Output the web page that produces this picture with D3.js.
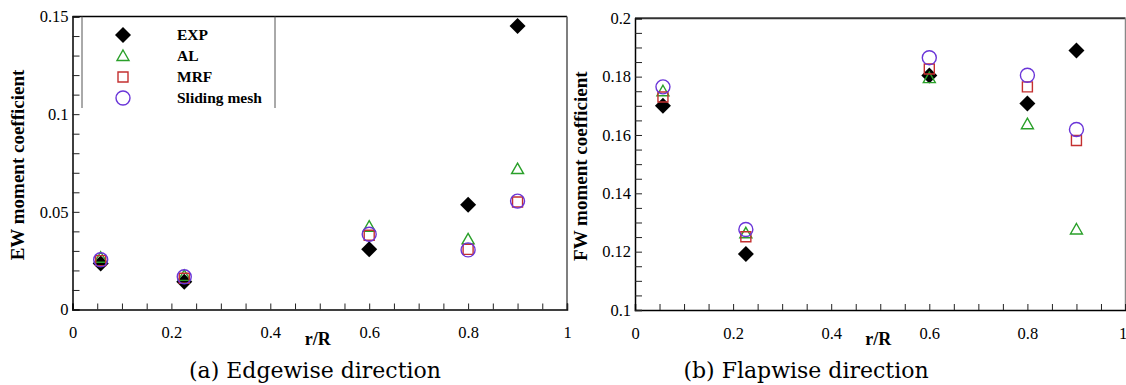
<!DOCTYPE html>
<html><head><meta charset="utf-8">
<script src="https://cdn.jsdelivr.net/npm/d3@7"></script>
<style>body{margin:0;background:#fff}svg{display:block}
.tnr{font-family:"Liberation Serif","Times New Roman",Times,serif}
.cap{font-family:"DejaVu Serif",serif}
</style>
</head><body>
<svg id="c" width="1126" height="385"></svg>
<script>
// ---- data ----
const rR = [0.057, 0.226, 0.6, 0.8, 0.9];
const seriesNames = ["EXP", "AL", "MRF", "Sliding mesh"];
// Edgewise (EW) moment coefficient
const ewEXP = [0.0235, 0.0142, 0.0308, 0.0536, 0.1452];
const ewAL = [0.0265, 0.0172, 0.0424, 0.0359, 0.0719];
const ewMRF = [0.0250, 0.0160, 0.0380, 0.0308, 0.0550];
const ewSliding = [0.0255, 0.0168, 0.0385, 0.0305, 0.0555];
// Flapwise (FW) moment coefficient
const fwEXP = [0.1700, 0.1192, 0.1804, 0.1708, 0.1890];
const fwAL = [0.1750, 0.1263, 0.1795, 0.1637, 0.1276];
const fwMRF = [0.1730, 0.1251, 0.1826, 0.1765, 0.1581];
const fwSliding = [0.1765, 0.1276, 0.1865, 0.1805, 0.1619];
const xTicks = [0, 0.2, 0.4, 0.6, 0.8, 1];
const ewTicks = [0, 0.05, 0.1, 0.15];
const fwTicks = [0.1, 0.12, 0.14, 0.16, 0.18, 0.2];

const svg = d3.select("#c");

const symbolPath = {
  EXP: "M0,-8L8,0L0,8L-8,0Z",
  AL: "M0,-6L6,4.5L-6,4.5Z",
  MRF: "M-5,-5H5V5H-5Z",
  "Sliding mesh": "M7,0A7,7 0 1,1 -7,0A7,7 0 1,1 7,0Z"
};
const symbolStyle = {
  EXP: {fill: "#000", stroke: "none", sw: 0},
  AL: {fill: "none", stroke: "#2aa02a", sw: 1.4},
  MRF: {fill: "none", stroke: "#c43030", sw: 1.4},
  "Sliding mesh": {fill: "none", stroke: "#6a35d8", sw: 1.4}
};

function panel(opt) {
  const x = d3.scaleLinear().domain([0, 1]).range([opt.x0, opt.x1]);
  const y = d3.scaleLinear().domain(opt.yDomain).range([opt.y0, opt.y1]);
  const g = svg.append("g");

  // frame
  g.append("line").attr("x1", opt.x0).attr("x2", opt.x1).attr("y1", opt.y1).attr("y2", opt.y1)
    .attr("stroke", opt.topColor).attr("stroke-width", opt.topWidth);
  g.append("line").attr("x1", opt.x1).attr("x2", opt.x1).attr("y1", opt.y1).attr("y2", opt.y0)
    .attr("stroke", opt.rightColor).attr("stroke-width", 1.5);

  // x axis
  const xa = g.append("g").attr("transform", `translate(0,${opt.y0})`)
    .call(d3.axisBottom(x).tickValues(d3.range(0, 1.0001, 0.05)).tickSize(-6).tickFormat(""));
  xa.select(".domain").attr("stroke", "#000").attr("stroke-width", 1.5);
  xa.selectAll(".tick line").attr("stroke", "#222").attr("stroke-width", 1);
  const xl = g.append("g").attr("transform", `translate(0,${opt.y0})`)
    .call(d3.axisBottom(x).tickValues(xTicks).tickSize(0).tickPadding(17).tickFormat(d => d === 0 || d === 1 ? d : d3.format(".1f")(d)));
  xl.select(".domain").remove();
  xl.attr("font-family", null).attr("font-size", null);
  xl.selectAll("text").attr("class", "tnr").style("font-size", "16.5px").attr("fill", "#000")
    .attr("dx", d => (d === 1 && opt.clampOne) ? -3 : 0);

  // y axis
  const ya = g.append("g").attr("transform", `translate(${opt.x0},0)`)
    .call(d3.axisLeft(y).tickValues(opt.yMinor).tickSize(-7).tickFormat(""));
  ya.select(".domain").attr("stroke", "#000").attr("stroke-width", 1.5);
  ya.selectAll(".tick line").attr("stroke", "#222").attr("stroke-width", 1);
  const yl = g.append("g").attr("transform", `translate(${opt.x0},0)`)
    .call(d3.axisLeft(y).tickValues(opt.yTicks).tickSize(0).tickPadding(4).tickFormat(d => d3.format("")(d)));
  yl.select(".domain").remove();
  yl.attr("font-family", null).attr("font-size", null);
  yl.selectAll("text").attr("class", "tnr").style("font-size", "16.5px").attr("fill", "#000");

  // axis titles
  g.append("text").attr("class", "tnr").attr("x", (opt.x0 + opt.x1) / 2 - 2).attr("y", 345)
    .attr("text-anchor", "middle").style("font-weight", "bold")
    .style("font-size", "18px").text("r/R");
  g.append("text").attr("class", "tnr").attr("transform", `translate(${opt.yTitleX},${(opt.y0 + opt.y1) / 2 + 2}) rotate(-90)`)
    .attr("text-anchor", "middle").style("font-weight", "bold")
    .style("font-size", "19px").text(opt.yTitle);
  g.append("text").attr("class", "cap").attr("x", opt.captionX).attr("y", 378)
    .attr("text-anchor", "middle")
    .style("font-size", "22px").text(opt.caption);

  // markers
  opt.series.forEach((vals, si) => {
    const name = seriesNames[si];
    const st = symbolStyle[name];
    g.selectAll(null).data(vals.map((v, i) => ({x: rR[i], v}))).enter().append("path")
      .attr("transform", d => `translate(${x(d.x)},${y(d.v)})`)
      .attr("d", symbolPath[name]).attr("fill", st.fill).attr("stroke", st.stroke).attr("stroke-width", st.sw);
  });
  return {x, y, g};
}

const ewMinor = d3.range(0, 0.1501, 0.01);
const fwMinor = d3.range(0.1, 0.2001, 0.005);

const left = panel({
  x0: 72.5, x1: 567, y0: 309.5, y1: 16.5, yDomain: [0, 0.15],
  yTicks: ewTicks, yMinor: ewMinor, topColor: "#000", topWidth: 1.5, rightColor: "#555",
  series: [ewEXP, ewAL, ewMRF, ewSliding], clampOne: false,
  yTitle: "EW moment coefficient", yTitleX: 24, captionX: 315, caption: "(a) Edgewise direction"
});
const right = panel({
  x0: 635, x1: 1125.5, y0: 310, y1: 18.3, yDomain: [0.1, 0.2],
  yTicks: fwTicks, yMinor: fwMinor, topColor: "#333", topWidth: 2, rightColor: "#888",
  series: [fwEXP, fwAL, fwMRF, fwSliding], clampOne: true,
  yTitle: "FW moment coefficient", yTitleX: 587, captionX: 806, caption: "(b) Flapwise direction"
});

// legend (left panel)
const lg = svg.append("g");
lg.append("line").attr("x1", 82).attr("x2", 82).attr("y1", 16.5).attr("y2", 108).attr("stroke", "#555").attr("stroke-width", 1);
lg.append("line").attr("x1", 275).attr("x2", 275).attr("y1", 16.5).attr("y2", 108).attr("stroke", "#555").attr("stroke-width", 1);
const legY = d3.scalePoint().domain(seriesNames).range([35, 98]);
seriesNames.forEach(name => {
  const st = symbolStyle[name];
  lg.append("path").attr("transform", `translate(123,${legY(name)})`)
    .attr("d", symbolPath[name]).attr("fill", st.fill).attr("stroke", st.stroke).attr("stroke-width", st.sw);
  lg.append("text").attr("class", "tnr").attr("x", 177).attr("y", legY(name) + 5)
    .style("font-weight", "bold").style("font-size", "15.5px").text(name);
});
</script>
</body></html>
